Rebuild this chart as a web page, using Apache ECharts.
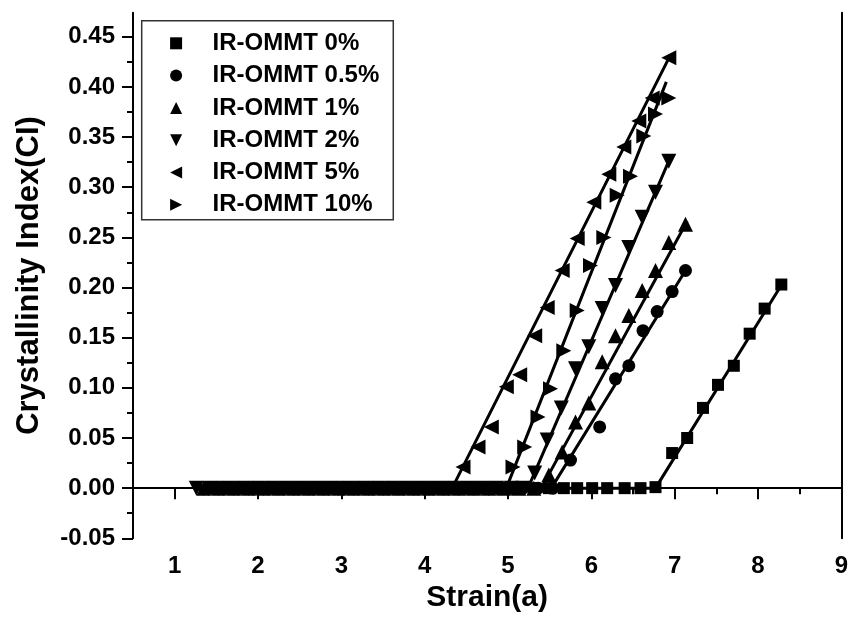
<!DOCTYPE html>
<html>
<head>
<meta charset="utf-8">
<script src="https://cdn.jsdelivr.net/npm/echarts@6/dist/echarts.min.js"></script>
<style>
html,body{margin:0;padding:0;background:#fff;}
#chart{width:851px;height:633px;}
</style>
</head>
<body>
<div id="chart"></div>
<script>
// ---------- DATA ----------
var seriesNames = ['IR-OMMT 0%', 'IR-OMMT 0.5%', 'IR-OMMT 1%', 'IR-OMMT 2%', 'IR-OMMT 5%', 'IR-OMMT 10%'];

var pts0 = [[1.46,0],[1.64,0],[1.82,0],[2.01,0],[2.19,0],[2.37,0],[2.56,0],[2.74,0],[2.92,0],[3.11,0],[3.29,0],[3.47,0],[3.66,0],[3.84,0],[4.02,0],[4.21,0],[4.39,0],[4.57,0],[4.76,0],[4.94,0],[5.12,0],[5.31,0],[5.49,0],[5.67,0],[5.83,0],[6.01,0],[6.19,0],[6.40,0],[6.59,0],[6.77,0.001],
  [6.97,0.035],[7.15,0.050],[7.34,0.080],[7.52,0.103],[7.71,0.122],[7.90,0.154],[8.08,0.179],[8.28,0.203]];
var pts1 = [[1.40,0],[1.58,0],[1.76,0],[1.94,0],[2.12,0],[2.30,0],[2.48,0],[2.66,0],[2.84,0],[3.02,0],[3.20,0],[3.38,0],[3.56,0],[3.74,0],[3.92,0],[4.10,0],[4.28,0],[4.46,0],[4.64,0],[4.82,0],[5.00,0],[5.18,0],[5.36,0],[5.54,0],
  [5.75,0.028],[6.10,0.061],[6.29,0.109],[6.45,0.122],[6.62,0.157],[6.79,0.176],[6.97,0.196],[7.13,0.217]];
var pts2 = [[1.35,0],[1.53,0],[1.71,0],[1.89,0],[2.07,0],[2.25,0],[2.43,0],[2.61,0],[2.79,0],[2.97,0],[3.15,0],[3.33,0],[3.51,0],[3.69,0],[3.87,0],[4.05,0],[4.23,0],[4.41,0],[4.59,0],[4.77,0],[4.95,0],[5.13,0],[5.31,0],
  [5.49,0.013],[5.65,0.036],[5.81,0.066],[5.97,0.085],[6.13,0.126],[6.29,0.152],[6.45,0.172],[6.61,0.197],[6.77,0.217],[6.93,0.245],[7.13,0.263]];
var pts3 = [[1.26,0],[1.44,0],[1.62,0],[1.80,0],[1.98,0],[2.16,0],[2.34,0],[2.52,0],[2.70,0],[2.88,0],[3.06,0],[3.24,0],[3.42,0],[3.60,0],[3.78,0],[3.96,0],[4.14,0],[4.32,0],[4.50,0],[4.68,0],[4.86,0],[5.04,0],[5.18,0],
  [5.32,0.015],[5.47,0.048],[5.64,0.080],[5.81,0.119],[5.97,0.141],[6.13,0.179],[6.29,0.202],[6.45,0.240],[6.61,0.270],[6.77,0.295],[6.93,0.326]];
var pts4 = [[1.32,0],[1.50,0],[1.68,0],[1.86,0],[2.04,0],[2.22,0],[2.40,0],[2.58,0],[2.76,0],[2.94,0],[3.12,0],[3.30,0],[3.48,0],[3.66,0],[3.84,0],[4.02,0],[4.20,0],
  [4.46,0.021],[4.64,0.041],[4.80,0.061],[4.98,0.101],[5.14,0.113],[5.32,0.152],[5.47,0.180],[5.65,0.217],[5.83,0.249],[6.03,0.285],[6.21,0.313],[6.39,0.340],[6.57,0.366],[6.73,0.389],[6.93,0.429]];
var pts5 = [[1.43,0],[1.61,0],[1.79,0],[1.97,0],[2.15,0],[2.33,0],[2.51,0],[2.69,0],[2.87,0],[3.05,0],[3.23,0],[3.41,0],[3.59,0],[3.77,0],[3.95,0],[4.13,0],[4.31,0],[4.49,0],[4.67,0],[4.85,0],
  [5.06,0.021],[5.20,0.041],[5.36,0.071],[5.51,0.099],[5.67,0.137],[5.83,0.177],[5.99,0.222],[6.15,0.250],[6.31,0.292],[6.47,0.311],[6.63,0.351],[6.77,0.373],[6.93,0.389]];

// fitted lines (baseline + linear rise)
var fit0 = [[1.46,0],[6.77,0],[8.30,0.205]];
var fit1 = [[1.40,0],[5.52,0],[7.13,0.217]];
var fit2 = [[1.35,0],[5.40,0],[7.15,0.266]];
var fit3 = [[1.26,0],[5.24,0],[6.95,0.330]];
var fit4 = [[1.32,0],[4.33,0],[6.95,0.432]];
var fit5 = [[1.43,0],[4.98,0],[6.90,0.405]];

var xMajorTicks = [1,2,3,4,5,6,7,8,9];
var xMinorTicks = [0.5,1.5,2.5,3.5,4.5,5.5,6.5,7.5,8.5];
var yMajorTicks = [-0.05,0,0.05,0.10,0.15,0.20,0.25,0.30,0.35,0.40,0.45];
var yMinorTicks = [-0.025,0.025,0.075,0.125,0.175,0.225,0.275,0.325,0.375,0.425];

// ---------- CHART ----------
var FONT = '"Liberation Sans", Arial, Helvetica, sans-serif';
var pts = [pts0, pts1, pts2, pts3, pts4, pts5];
var fits = [fit0, fit1, fit2, fit3, fit4, fit5];
var symbols = ['rect','circle','triangle','triangle','triangle','triangle'];
var rotates = [0,0,0,180,90,-90];
var sizes = [12,13,15,15,15,15];
var legendIcons = [
  'path://M0,0L10,0L10,10L0,10Z',
  'circle',
  'path://M5,0L10,10L0,10Z',
  'path://M0,0L10,0L5,10Z',
  'path://M0,5L10,0L10,10Z',
  'path://M0,0L10,5L0,10Z'
];

var series = [];
fits.forEach(function(f){
  series.push({
    type:'line', data:f, xAxisIndex:0, yAxisIndex:0,
    showSymbol:false, symbol:'none', silent:true,
    lineStyle:{color:'#000', width:3}, z:2
  });
});
pts.forEach(function(p,i){
  series.push({
    type:'scatter', name:seriesNames[i], data:p, xAxisIndex:0, yAxisIndex:0,
    symbol:symbols[i], symbolRotate:rotates[i], symbolSize:sizes[i],
    itemStyle:{color:'#000', opacity:1}, z:3
  });
});

var axLine = {show:true, lineStyle:{color:'#000', width:2}};
var option = {
  animation:false,
  backgroundColor:'#fff',
  grid:{left:133, right:8, top:12.7, bottom:94.7, containLabel:false},
  legend:{
    data:seriesNames.map(function(n,i){return {name:n, icon:legendIcons[i]};}),
    orient:'vertical', left:141.7, top:20.7,
    backgroundColor:'#fff', borderColor:'#333', borderWidth:1.5,
    padding:[10.6,14,3,28.4], itemWidth:63, itemHeight:12, itemGap:8.3,
    symbolKeepAspect:true,
    selectedMode:false,
    itemStyle:{color:'#000', opacity:1},
    textStyle:{fontFamily:FONT, fontWeight:'bold', fontSize:24, color:'#000', lineHeight:24}
  },
  xAxis:[
    {type:'value', min:0.5, max:9, position:'bottom',
     axisLine:axLine,
     axisTick:{show:true, inside:false, length:11, customValues:xMajorTicks, lineStyle:{color:'#000', width:2}},
     axisLabel:{show:true, customValues:xMajorTicks, margin:16, fontFamily:FONT, fontWeight:'bold', fontSize:24, color:'#000'},
     splitLine:{show:false},
     name:'Strain(a)', nameLocation:'middle', nameGap:40,
     nameTextStyle:{fontFamily:FONT, fontWeight:'bold', fontSize:30, color:'#000'}},
    {type:'value', min:0.5, max:9, position:'bottom',
     axisLine:{show:false},
     axisTick:{show:true, inside:false, length:6, customValues:xMinorTicks, lineStyle:{color:'#000', width:2}},
     axisLabel:{show:false}, splitLine:{show:false}},
    {type:'value', min:0.5, max:9, position:'top',
     axisLine:axLine, axisTick:{show:false}, axisLabel:{show:false}, splitLine:{show:false}}
  ],
  yAxis:[
    {type:'value', min:-0.05, max:0.474, position:'left',
     axisLine:axLine,
     axisTick:{show:true, inside:false, length:11, customValues:yMajorTicks, lineStyle:{color:'#000', width:2}},
     axisLabel:{show:true, customValues:yMajorTicks, margin:18, fontFamily:FONT, fontWeight:'bold', fontSize:24, color:'#000',
       formatter:function(v){return v.toFixed(2);}},
     splitLine:{show:false},
     name:'Crystallinity Index(CI)', nameLocation:'middle', nameGap:88,
     nameTextStyle:{fontFamily:FONT, fontWeight:'bold', fontSize:31, color:'#000'}},
    {type:'value', min:-0.05, max:0.474, position:'left',
     axisLine:{show:false},
     axisTick:{show:true, inside:false, length:6, customValues:yMinorTicks, lineStyle:{color:'#000', width:2}},
     axisLabel:{show:false}, splitLine:{show:false}},
    {type:'value', min:-0.05, max:0.474, position:'right',
     axisLine:axLine, axisTick:{show:false}, axisLabel:{show:false}, splitLine:{show:false}}
  ],
  series:series
};

var chart = echarts.init(document.getElementById('chart'), null, {renderer:'canvas'});
chart.setOption(option);
</script>
</body>
</html>
